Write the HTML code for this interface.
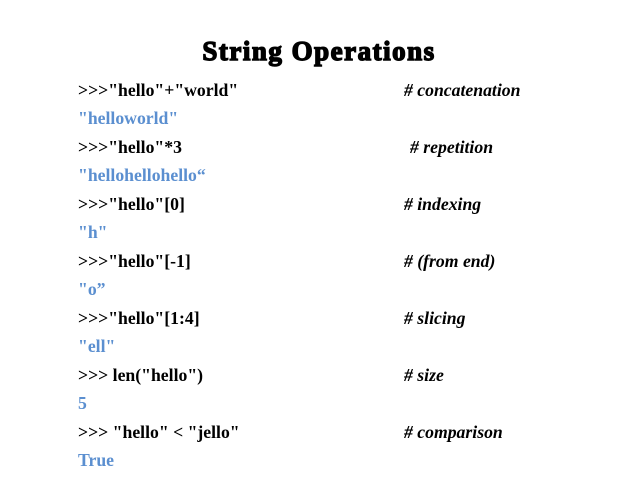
<!DOCTYPE html>
<html><head><style>
body{margin:0;width:638px;height:479px;background:#fff;position:relative;overflow:hidden;font-family:"Liberation Serif",serif;}
.t{position:absolute;left:0;width:638px;text-align:center;top:36px;font-size:27px;font-weight:bold;-webkit-text-stroke:1.4px #000;letter-spacing:1.5px;}
.l{position:absolute;font-size:17.7px;font-weight:bold;line-height:20px;white-space:pre;color:#000;}
.b{color:#5b8fd0;}
.c{font-style:italic;}
</style></head><body>
<div class="t">String Operations</div>
<div class="l" style="left:78px;top:80px">&gt;&gt;&gt;"hello"+"world"</div>
<div class="l c" style="left:404px;top:80px">#&nbsp;concatenation</div>
<div class="l b" style="left:78px;top:108px">"helloworld"</div>
<div class="l" style="left:78px;top:137px">&gt;&gt;&gt;"hello"*3</div>
<div class="l c" style="left:410px;top:137px">#&nbsp;repetition</div>
<div class="l b" style="left:78px;top:165px">"hellohellohello“</div>
<div class="l" style="left:78px;top:194px">&gt;&gt;&gt;"hello"[0]</div>
<div class="l c" style="left:404px;top:194px">#&nbsp;indexing</div>
<div class="l b" style="left:78px;top:222px">"h"</div>
<div class="l" style="left:78px;top:251px">&gt;&gt;&gt;"hello"[-1]</div>
<div class="l c" style="left:404px;top:251px">#&nbsp;(from end)</div>
<div class="l b" style="left:78px;top:279px">"o”</div>
<div class="l" style="left:78px;top:308px">&gt;&gt;&gt;"hello"[1:4]</div>
<div class="l c" style="left:404px;top:308px">#&nbsp;slicing</div>
<div class="l b" style="left:78px;top:336px">"ell"</div>
<div class="l" style="left:78px;top:365px">&gt;&gt;&gt; len("hello")</div>
<div class="l c" style="left:404px;top:365px">#&nbsp;size</div>
<div class="l b" style="left:78px;top:393px">5</div>
<div class="l" style="left:78px;top:422px">&gt;&gt;&gt; "hello" &lt; "jello"</div>
<div class="l c" style="left:404px;top:422px">#&nbsp;comparison</div>
<div class="l b" style="left:78px;top:450px">True</div>
</body></html>
